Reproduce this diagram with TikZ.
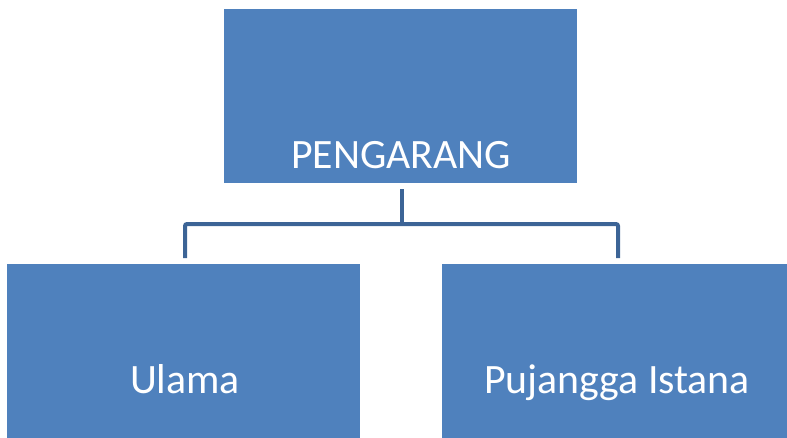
\documentclass[tikz,border=0pt]{standalone}
\usepackage{fontspec}
\setmainfont{Carlito}
\definecolor{boxblue}{HTML}{4F81BD}
\definecolor{lineblue}{RGB}{60,100,150}
\begin{document}
\begin{tikzpicture}[x=1pt,y=-1pt,
  box/.style={fill=boxblue,draw=none,inner sep=0pt,anchor=north west},
  lbl/.style={text=white,font=\fontsize{41.8}{50}\selectfont,anchor=base,inner sep=0pt},
  conn/.style={draw=lineblue,line width=4pt,rounded corners=2pt}]
\useasboundingbox (0,0) rectangle (787,437);
\node[box,minimum width=353pt,minimum height=174pt] (top) at (224,9) {};
\node[box,minimum width=353pt,minimum height=180pt] (left) at (7,264) {};
\node[box,minimum width=350pt,minimum height=180pt] (right) at (442,264) {};
\node[lbl] (tt) at (401,168) {PENGARANG};
\node[lbl] (lt) at (185,393) {Ulama};
\node[lbl] (rt) at (617,393) {Pujangga Istana};
\coordinate (s) at (402,189);
\coordinate (j) at (402,224);
\coordinate (a) at (185,258);
\coordinate (b) at (618,258);
\draw[conn] (s) -- (j);
\draw[conn] (a) |- (j) -| (b);
\end{tikzpicture}
\end{document}
